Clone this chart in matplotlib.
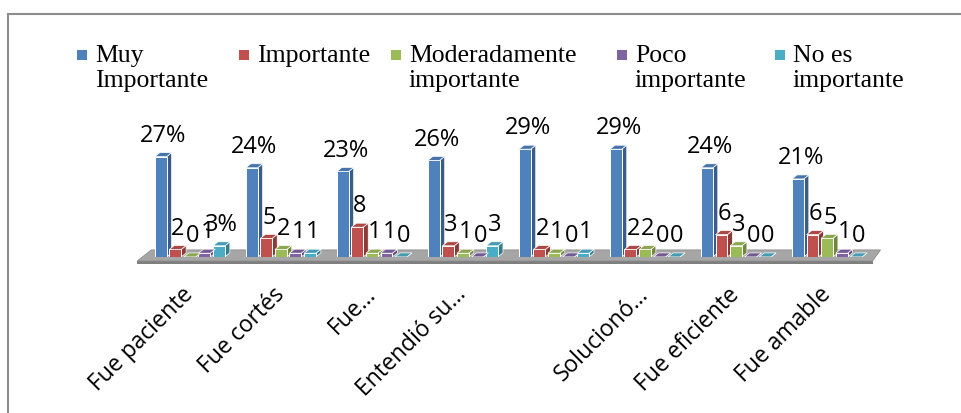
import matplotlib
matplotlib.use("Agg")
import matplotlib.pyplot as plt
from matplotlib.patches import Polygon, Rectangle
from matplotlib.lines import Line2D
import numpy as np

# Datos (porcentajes)
categorias = ["Fue paciente", "Fue cortés", "Fue...", "Entendió su...", "",
              "Solucionó...", "Fue eficiente", "Fue amable"]
series = ["Muy\nImportante", "Importante", "Moderadamente\nimportante",
          "Poco\nimportante", "No es\nimportante"]
muy_importante = [27, 24, 23, 26, 29, 29, 24, 21]
importante = [2, 5, 8, 3, 2, 2, 6, 6]
moderado = [0, 2, 1, 1, 1, 2, 3, 5]
poco = [1, 1, 1, 0, 0, 0, 0, 1]
no_es = [3, 1, 0, 3, 1, 0, 0, 0]
etq_muy = ["27%", "24%", "23%", "26%", "29%", "29%", "24%", "21%"]
etq_imp = ["2", "5", "8", "3", "2", "2", "6", "6"]
etq_mod = ["0", "2", "1", "1", "1", "2", "3", "5"]
etq_poco = ["1", "1", "1", "0", "0", "0", "0", "1"]
etq_no = ["3%", "1", "0", "3", "1", "0", "0", "0"]

valores = [muy_importante, importante, moderado, poco, no_es]
etiquetas = [etq_muy, etq_imp, etq_mod, etq_poco, etq_no]
colores = ["#4F81BD", "#C0504D", "#9BBB59", "#8064A2", "#4BACC6"]


def oscurecer(c, f):
    r, g, b = matplotlib.colors.to_rgb(c)
    return (r * f, g * f, b * f)


W, H, DPI = 962, 414, 100
fig = plt.figure(figsize=(W / DPI, H / DPI), dpi=DPI)
fig.patch.set_facecolor("white")

# marco del área del gráfico (solo arriba e izquierda visibles)
fig.add_artist(Line2D([8 / W, 1], [1 - 15 / H, 1 - 15 / H], color="#8C8C8C", lw=1.5))
fig.add_artist(Line2D([8 / W, 8 / W], [0, 1 - 15 / H], color="#8C8C8C", lw=1.5))

pos = [0.150, 0.377, 0.757, 0.314]
ax = fig.add_axes(pos)
xmin, xmax, ymax = -0.5, 7.5, 35
ax.set_xlim(xmin, xmax)
ax.set_ylim(0, ymax)
ax.axis("off")

# conversión píxel -> unidades de datos
px_x = (xmax - xmin) / (pos[2] * W)
px_y = ymax / (pos[3] * H)
dx, dy = 5 * px_x, 4 * px_y

# piso gris
x = np.arange(len(categorias))
f_front = [(xmin - 7 * px_x, -4 * px_y), (xmax, -4 * px_y),
           (xmax + 8 * px_x, 7 * px_y), (xmin + 7 * px_x, 7 * px_y)]
ax.add_patch(Polygon([(xmin - 7 * px_x, -7 * px_y), (xmax, -7 * px_y),
                      (xmax, -4 * px_y), (xmin - 7 * px_x, -4 * px_y)],
                     closed=True, fc="#7F7F7F", ec="none", clip_on=False, zorder=1))
ax.add_patch(Polygon(f_front, closed=True, fc="#A6A6A6", ec="#8C8C8C", lw=0.6,
                     clip_on=False, zorder=1))

ancho = 0.13
paso = 0.16
for j in range(len(series)):
    xs = x + (j - 2) * paso
    barras = ax.bar(xs, valores[j], width=ancho, color=colores[j],
                    edgecolor="white", linewidth=0.7, zorder=3)
    for k, b in enumerate(barras):
        x0, x1 = b.get_x(), b.get_x() + b.get_width()
        h = b.get_height()
        lado = Polygon([(x1, 0), (x1 + dx, dy), (x1 + dx, h + dy), (x1, h)],
                       closed=True, fc=oscurecer(colores[j], 0.72),
                       ec="white", lw=0.5, zorder=2.9)
        tapa = Polygon([(x0, h), (x1, h), (x1 + dx, h + dy), (x0 + dx, h + dy)],
                       closed=True, fc=oscurecer(colores[j], 0.9),
                       ec="white", lw=0.5, zorder=3.1)
        ax.add_patch(lado)
        ax.add_patch(tapa)
        ax.annotate(etiquetas[j][k], (b.get_x() + b.get_width() / 2, h),
                    xytext=(2, 7), textcoords="offset points",
                    ha="center", va="bottom", fontsize=17,
                    family="Open Sans", color="black", zorder=5)

# etiquetas de categoría
for i, c in enumerate(categorias):
    ax.annotate(c, (i, 0), xytext=(0, -24), textcoords="offset points",
                ha="right", va="center", rotation=45, rotation_mode="anchor",
                fontsize=16.5, family="Open Sans", annotation_clip=False)

# leyenda manual
xs_texto = [95, 257, 409, 635, 793]
for s, c, xt in zip(series, colores, xs_texto):
    fig.add_artist(Rectangle(((xt - 18) / W, 1 - 61 / H), 10 / W, 10 / H,
                             transform=fig.transFigure, fc=c, ec="none"))
    fig.text(xt / W, 1 - 45 / H, s, ha="left", va="top",
             fontsize=18.5, family="Liberation Serif", linespacing=1.2)

fig.savefig("out.png", dpi=DPI)
